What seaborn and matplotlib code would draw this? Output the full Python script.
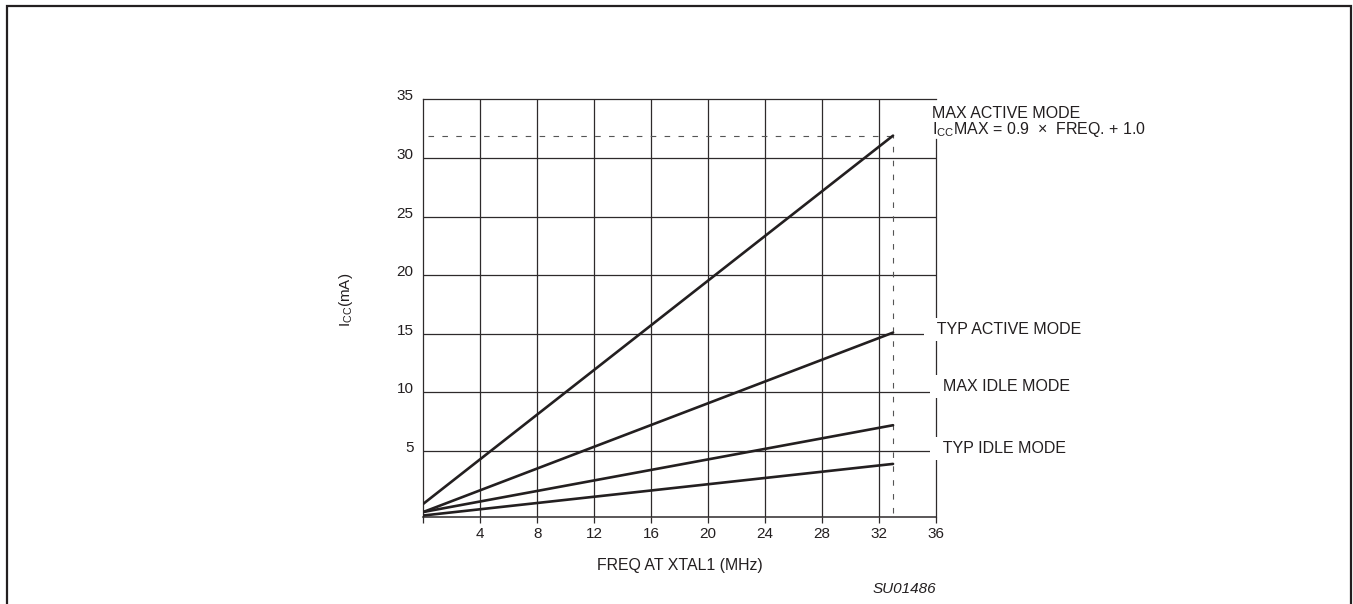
import matplotlib
matplotlib.use("Agg")
import matplotlib.pyplot as plt
import matplotlib.transforms as mtransforms
from matplotlib.patches import Rectangle
import seaborn as sns

# ---- data ----
freq = [0, 33]
max_active = [0.5, 31.9]
typ_active = [-0.2, 15.1]
max_idle = [-0.2, 7.2]
typ_idle = [-0.5, 3.9]

x_ticks = [0, 4, 8, 12, 16, 20, 24, 28, 32, 36]
x_ticklabels = ["", "4", "8", "12", "16", "20", "24", "28", "32", "36"]
y_ticks = [5, 10, 15, 20, 25, 30, 35]
y_ticklabels = ["5", "10", "15", "20", "25", "30", "35"]
x_grid = [4, 8, 12, 16, 20, 24, 28, 32]
y_grid = [5, 10, 15, 20, 25, 30]

series = [
    ("MAX ACTIVE MODE", max_active),
    ("TYP ACTIVE MODE", typ_active),
    ("MAX IDLE MODE", max_idle),
    ("TYP IDLE MODE", typ_idle),
]
label_pos = {  # (x, baseline y) in data units for side labels
    "TYP ACTIVE MODE": (35.44, 15.0),
    "MAX IDLE MODE": (35.86, 10.1),
    "TYP IDLE MODE": (35.86, 4.8),
}

sns.set_theme(style="white")
plt.rcParams["font.family"] = ["Liberation Sans", "DejaVu Sans"]
plt.rcParams["mathtext.fontset"] = "custom"
plt.rcParams["mathtext.rm"] = "Liberation Sans"
plt.rcParams["mathtext.it"] = "Liberation Sans:italic"

INK = "#231f20"
GRID = "#2e2a2b"

fig = plt.figure(figsize=(13.53, 6.04), dpi=100)
fig.patch.set_facecolor("white")
ax = fig.add_axes([0.3129, 0.1440, 0.3787, 0.6916])
ax.set_facecolor("white")

ax.set_xlim(0, 36)
ax.set_ylim(-0.63, 35)

# grid
for gx in x_grid:
    ax.axvline(gx, color=GRID, lw=0.9, zorder=1)
for gy in y_grid:
    ax.axhline(gy, color=GRID, lw=0.9, zorder=1)

# data lines
for name, vals in series:
    sns.lineplot(x=freq, y=vals, ax=ax, color=INK, lw=1.9, zorder=4)

# dashed guides at the max active end point
ax.plot([0.35, freq[-1]], [max_active[-1], max_active[-1]], color="#555555",
        lw=0.8, dashes=(5, 7.5), zorder=2)
ax.plot([freq[-1], freq[-1]], [-0.25, max_active[-1]], color="#555555",
        lw=0.8, dashes=(5, 7.5), zorder=2)

# spines
for s in ["left", "bottom", "top", "right"]:
    ax.spines[s].set_visible(True)
    ax.spines[s].set_color(GRID)
    ax.spines[s].set_linewidth(0.9)
ax.spines["right"].set_bounds(-0.63, 31.6)
ax.spines["bottom"].set_linewidth(1.1)

# ticks
ax.set_xticks(x_ticks)
ax.set_xticklabels(x_ticklabels)
ax.set_yticks(y_ticks)
ax.set_yticklabels(y_ticklabels)
ax.tick_params(axis="x", direction="out", length=4.3, width=0.9, color=GRID,
               labelsize=11, labelcolor=INK, pad=3.2, bottom=True)
ax.tick_params(axis="y", length=0, labelsize=11, labelcolor=INK, pad=7.0, left=True)
offset = mtransforms.ScaledTranslation(0, 0.045, fig.dpi_scale_trans)
for lab in ax.get_yticklabels():
    lab.set_transform(lab.get_transform() + offset)

# axis labels
ax.set_xlabel("FREQ AT XTAL1 (MHz)", fontsize=11.4, color=INK)
ax.xaxis.set_label_coords(0.5, -0.115)
ax.xaxis.label.set_va("center")
ax.set_ylabel(r"I$_{\mathregular{CC}}$(mA)", fontsize=11, color=INK)
ax.yaxis.set_label_coords(-0.150, 0.52)
ax.yaxis.label.set_va("center")

# annotations
ax.text(35.75, 33.4, "MAX ACTIVE MODE", fontsize=11.5, color=INK,
        ha="left", va="baseline", clip_on=False)
ax.text(35.72, 32.0, r"I$_{\mathregular{CC}}$MAX = 0.9  ×  FREQ. + 1.0",
        fontsize=11.5, color=INK, ha="left", va="baseline", clip_on=False)
for name, _ in series[1:]:
    lx, ly = label_pos[name]
    ax.text(lx, ly, "  " + name, fontsize=11.5, color=INK, ha="left",
            va="baseline", clip_on=False, zorder=5,
            bbox=dict(facecolor="white", edgecolor="none",
                      boxstyle="square,pad=0.25"))

ax.text(0.938, -0.172, "SU01486", transform=ax.transAxes, fontsize=11,
        style="italic", color=INK, ha="center", va="center")

# outer frame (open at the bottom)
frame = Rectangle((0.0052, -0.05), 0.9933, 1.04, transform=fig.transFigure,
                  fill=False, edgecolor=INK, lw=1.6, clip_on=False)
fig.patches.append(frame)

fig.savefig("out.png", dpi=100, facecolor="white")
